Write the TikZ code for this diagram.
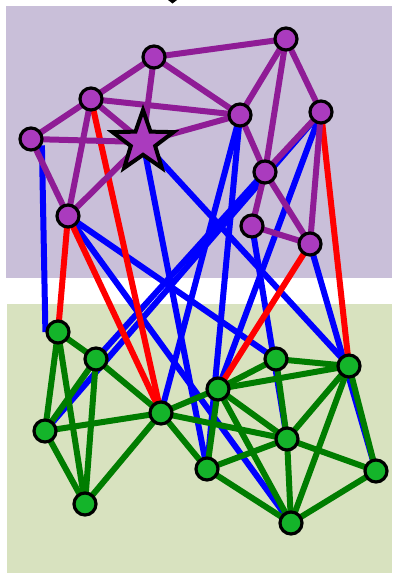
\documentclass[tikz,border=0pt]{standalone}
\usetikzlibrary{shapes.geometric}
\definecolor{purplebg}{HTML}{C9BFD9}
\definecolor{greenbg}{HTML}{D8E2BF}
\definecolor{pnodefill}{HTML}{AA3BBE}
\definecolor{pedgecol}{HTML}{8F1C96}
\definecolor{gnodefill}{HTML}{14B42A}
\definecolor{gedgecol}{HTML}{007D00}
\pgfdeclarelayer{edges}
\pgfdeclarelayer{bg}
\pgfsetlayers{bg,edges,main}
\tikzset{
  pnode/.style={circle,draw=black,line width=3.2pt,fill=pnodefill,minimum size=22pt,inner sep=0pt},
  gnode/.style={circle,draw=black,line width=3.2pt,fill=gnodefill,minimum size=22pt,inner sep=0pt},
  starnode/.style={star,star points=5,star point ratio=2.5,draw=black,line width=4pt,fill=pnodefill,minimum size=64pt,inner sep=0pt},
  pedge/.style={draw=pedgecol,line width=6pt},
  gedge/.style={draw=gedgecol,line width=6pt},
  bedge/.style={draw=blue,line width=6pt},
  redge/.style={draw=red,line width=6pt}
}
\begin{document}
\begin{tikzpicture}[x=1pt,y=-1pt]
\useasboundingbox (0,0) rectangle (392,573);
\begin{pgfonlayer}{bg}
\fill[purplebg] (6,6) rectangle (392,278);
\fill[greenbg] (7,304) rectangle (392,573);
\fill[black] (168,0) -- (177,0) -- (172.5,3.5) -- cycle;
\end{pgfonlayer}
% nodes
\node[pnode] (p1) at (154,57) {};
\node[pnode] (p2) at (286,39) {};
\node[pnode] (p3) at (91,99) {};
\node[pnode] (p4) at (31,139) {};
\node[starnode] (ps) at (143,142) {};
\node[pnode] (p5) at (240,115) {};
\node[pnode] (p6) at (321,112) {};
\node[pnode] (p7) at (265,172) {};
\node[pnode] (p8) at (68,216) {};
\node[pnode] (p9) at (252,226) {};
\node[pnode] (p10) at (310,244) {};
\node[gnode] (g1) at (58,332) {};
\node[gnode] (g2) at (96,359) {};
\node[gnode] (g3) at (45,431) {};
\node[gnode] (g4) at (161,413) {};
\node[gnode] (g5) at (85,504) {};
\node[gnode] (g6) at (218,389) {};
\node[gnode] (g7) at (276,359) {};
\node[gnode] (g8) at (349,366) {};
\node[gnode] (g9) at (287,439) {};
\node[gnode] (g10) at (207,469) {};
\node[gnode] (g11) at (376,471) {};
\node[gnode] (g12) at (291,523) {};
\begin{pgfonlayer}{edges}
% blue edges
\draw[bedge] (p4.-30) -- (g1.west);
\foreach \a/\b in {ps/g10,ps/g8,p8/g7,p8/g12,p5/g4,p5/g10,p6/g3,p7/g2,p6/g6,p9/g9,p10/g11}
  \draw[bedge] (\a.center) -- (\b.center);
% red edges
\foreach \a/\b in {p3/g4,p8/g4,p8/g1,p10/g6,p6/g8}
  \draw[redge] (\a.center) -- (\b.center);
% purple edges
\foreach \a/\b in {p1/p2,p1/p3,p1/p5,p1/ps,p3/p5,p3/ps,p3/p4,p3/p8,p4/ps,p4/p8,ps/p5,ps/p8,p2/p5,p2/p7,p2/p6,p5/p7,p6/p7,p6/p10,p7/p9,p7/p10,p9/p10}
  \draw[pedge] (\a.center) -- (\b.center);
% green edges
\foreach \a/\b in {g1/g2,g1/g3,g1/g5,g2/g3,g2/g5,g2/g4,g3/g4,g3/g5,g4/g5,g4/g6,g4/g9,g4/g10,g6/g7,g6/g8,g6/g9,g6/g10,g6/g12,g7/g8,g7/g9,g8/g9,g8/g12,g8/g11,g9/g10,g9/g12,g9/g11,g10/g12,g11/g12}
  \draw[gedge] (\a.center) -- (\b.center);
\end{pgfonlayer}
\end{tikzpicture}
\end{document}
